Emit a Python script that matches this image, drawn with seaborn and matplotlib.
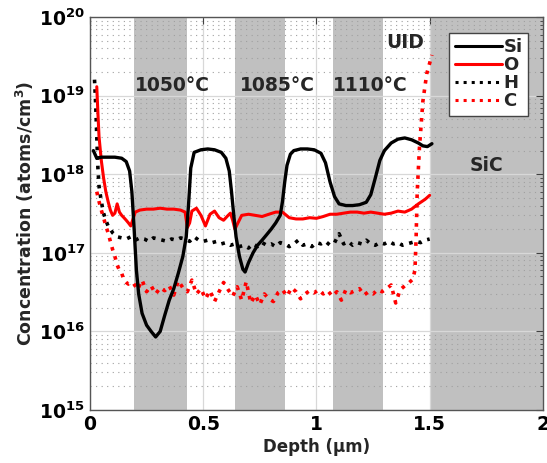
import matplotlib
matplotlib.use("Agg")
import matplotlib.pyplot as plt
import seaborn as sns
import numpy as np
from matplotlib.ticker import LogLocator, LogFormatterMathtext, NullFormatter

# SIMS depth profile values
si_x = [0.015, 0.03, 0.05, 0.08, 0.11, 0.14, 0.16, 0.175, 0.185, 0.195, 0.205, 0.215,
        0.23, 0.25, 0.27, 0.29, 0.31, 0.33, 0.35, 0.37, 0.39, 0.41, 0.425, 0.435, 0.445,
        0.46, 0.49, 0.52, 0.55, 0.58, 0.60, 0.615, 0.625, 0.635, 0.645, 0.66, 0.675, 0.685,
        0.70, 0.72, 0.74, 0.76, 0.78, 0.80, 0.82, 0.84, 0.85, 0.86, 0.87, 0.885, 0.90, 0.93,
        0.96, 0.99, 1.02, 1.04, 1.06, 1.08, 1.10, 1.13, 1.16, 1.19, 1.22, 1.24, 1.26, 1.28,
        1.30, 1.33, 1.36, 1.39, 1.42, 1.45, 1.47, 1.49, 1.51]
si_y = [2.0e18, 1.6e18, 1.65e18, 1.65e18, 1.65e18, 1.6e18, 1.45e18, 1.1e18, 6e17, 2e17, 6e16, 3e16,
        1.7e16, 1.2e16, 1.0e16, 8.5e15, 1.0e16, 1.6e16, 2.5e16, 3.5e16, 5.5e16, 9e16, 1.6e17, 4e17, 1.2e18,
        1.9e18, 2.05e18, 2.1e18, 2.05e18, 1.9e18, 1.6e18, 1.1e18, 6e17, 3e17, 1.6e17, 9e16, 6.2e16, 5.7e16,
        7.5e16, 1.0e17, 1.25e17, 1.45e17, 1.7e17, 2.0e17, 2.4e17, 3.0e17, 4.5e17, 8e17, 1.3e18, 1.8e18, 2.0e18, 2.1e18,
        2.1e18, 2.05e18, 1.85e18, 1.4e18, 8e17, 5.2e17, 4.2e17, 4.0e17, 4.0e17, 4.1e17, 4.4e17, 5.5e17, 9e17, 1.5e18,
        2.0e18, 2.5e18, 2.8e18, 2.9e18, 2.75e18, 2.5e18, 2.3e18, 2.25e18, 2.45e18]

o_x = [0.03, 0.035, 0.04, 0.05, 0.06, 0.07, 0.08, 0.09, 0.10, 0.11, 0.12, 0.13, 0.14, 0.15,
       0.16, 0.17, 0.18, 0.19, 0.20, 0.22, 0.25, 0.28, 0.31, 0.34, 0.37, 0.40, 0.42, 0.43,
       0.44, 0.45, 0.47, 0.49, 0.51, 0.53, 0.55, 0.57, 0.59, 0.61, 0.62, 0.63, 0.64, 0.65,
       0.67, 0.70, 0.73, 0.76, 0.79, 0.82, 0.85, 0.88, 0.91, 0.94, 0.97, 1.00, 1.03, 1.06,
       1.09, 1.12, 1.15, 1.18, 1.21, 1.24, 1.27, 1.30, 1.33, 1.36, 1.39, 1.42, 1.45, 1.48, 1.50]
o_y = [1.3e19, 6e18, 3e18, 1.5e18, 9e17, 6e17, 4.5e17, 3.5e17, 3.0e17, 3.2e17, 4.2e17, 3.3e17, 3.0e17, 2.8e17,
       2.6e17, 2.4e17, 2.2e17, 2.7e17, 3.3e17, 3.5e17, 3.6e17, 3.6e17, 3.7e17, 3.6e17, 3.6e17, 3.5e17, 3.3e17, 2.1e17,
       2.4e17, 3.4e17, 3.7e17, 3.0e17, 2.2e17, 3.1e17, 3.4e17, 2.8e17, 2.6e17, 3.0e17, 3.2e17, 2.6e17, 2.0e17, 2.3e17,
       3.0e17, 3.1e17, 3.0e17, 2.9e17, 3.1e17, 3.3e17, 3.3e17, 2.8e17, 2.7e17, 2.7e17, 2.8e17, 2.75e17, 2.9e17, 3.1e17,
       3.1e17, 3.2e17, 3.3e17, 3.3e17, 3.2e17, 3.3e17, 3.2e17, 3.1e17, 3.2e17, 3.4e17, 3.3e17, 3.6e17, 4.2e17, 4.8e17, 5.4e17]

h_x = [0.02, 0.025, 0.03, 0.035, 0.04, 0.05, 0.06, 0.07, 0.08, 0.09, 0.10, 0.12, 0.14, 0.16,
       0.18, 0.20, 0.22, 0.24, 0.26, 0.28, 0.30, 0.32, 0.34, 0.36, 0.38, 0.40, 0.42, 0.44,
       0.46, 0.48, 0.50, 0.52, 0.54, 0.56, 0.58, 0.60, 0.62, 0.64, 0.66, 0.68, 0.70, 0.72,
       0.74, 0.76, 0.78, 0.80, 0.82, 0.84, 0.86, 0.88, 0.90, 0.92, 0.94, 0.96, 0.98, 1.00,
       1.02, 1.04, 1.06, 1.08, 1.10, 1.12, 1.14, 1.16, 1.18, 1.20, 1.22, 1.24, 1.26, 1.28,
       1.30, 1.32, 1.34, 1.36, 1.38, 1.40, 1.42, 1.44, 1.46, 1.48, 1.50]
h_y = [1.6e19, 8e18, 3e18, 1.2e18, 7e17, 4.5e17, 3.2e17, 2.6e17, 2.2e17, 2.0e17, 1.8e17, 1.6e17, 1.55e17, 1.5e17,
       1.6e17, 1.45e17, 1.55e17, 1.5e17, 1.4e17, 1.55e17, 1.5e17, 1.45e17, 1.4e17, 1.5e17, 1.45e17, 1.55e17, 1.5e17, 1.4e17,
       1.6e17, 1.45e17, 1.4e17, 1.45e17, 1.35e17, 1.4e17, 1.3e17, 1.35e17, 1.25e17, 1.3e17, 1.2e17, 1.25e17, 1.15e17, 1.3e17,
       1.2e17, 1.35e17, 1.25e17, 1.3e17, 1.2e17, 1.35e17, 1.3e17, 1.2e17, 1.3e17, 1.45e17, 1.25e17, 1.3e17, 1.2e17, 1.35e17,
       1.3e17, 1.4e17, 1.25e17, 1.35e17, 1.75e17, 1.3e17, 1.4e17, 1.25e17, 1.35e17, 1.3e17, 1.45e17, 1.3e17, 1.25e17, 1.35e17,
       1.3e17, 1.4e17, 1.3e17, 1.35e17, 1.25e17, 1.3e17, 1.35e17, 1.4e17, 1.35e17, 1.45e17, 1.5e17]

c_x = [0.03, 0.04, 0.05, 0.06, 0.07, 0.08, 0.09, 0.10, 0.11, 0.12, 0.13, 0.14, 0.15, 0.16,
       0.17, 0.19, 0.21, 0.23, 0.25, 0.27, 0.29, 0.31, 0.33, 0.35, 0.37, 0.39, 0.41, 0.43,
       0.45, 0.47, 0.49, 0.51, 0.53, 0.55, 0.57, 0.59, 0.61, 0.63, 0.65, 0.67, 0.69, 0.71,
       0.73, 0.75, 0.77, 0.79, 0.81, 0.83, 0.85, 0.87, 0.89, 0.91, 0.93, 0.95, 0.97, 0.99,
       1.01, 1.03, 1.05, 1.07, 1.09, 1.11, 1.13, 1.15, 1.17, 1.19, 1.21, 1.23, 1.25, 1.27,
       1.29, 1.31, 1.33, 1.35, 1.37, 1.39, 1.41, 1.425, 1.435, 1.44, 1.445, 1.455, 1.47, 1.487, 1.51]
c_y = [6e17, 4.5e17, 3.5e17, 2.8e17, 2.2e17, 1.8e17, 1.4e17, 1.1e17, 9e16, 7e16, 6e16, 5.5e16, 4.5e16, 4.2e16,
       4.0e16, 4.2e16, 3.4e16, 4.5e16, 3.2e16, 3.8e16, 3.0e16, 3.6e16, 3.3e16, 3.8e16, 2.9e16, 4.4e16, 3.6e16, 3.2e16,
       4.5e16, 3.0e16, 3.5e16, 2.6e16, 3.3e16, 2.4e16, 3.2e16, 4.2e16, 3.4e16, 2.8e16, 3.7e16, 2.5e16, 4.3e16, 2.3e16,
       2.9e16, 2.2e16, 3.0e16, 2.6e16, 2.4e16, 3.1e16, 3.4e16, 2.8e16, 3.6e16, 3.2e16, 2.6e16, 3.0e16, 3.3e16, 3.1e16,
       3.4e16, 3.0e16, 3.3e16, 2.8e16, 3.2e16, 2.5e16, 3.4e16, 3.1e16, 3.3e16, 3.5e16, 2.9e16, 3.2e16, 3.0e16, 3.4e16,
       3.2e16, 3.5e16, 3.9e16, 2.3e16, 3.4e16, 3.8e16, 4.2e16, 4.6e16, 6e16, 1.5e17, 6e17, 2.2e18, 8.5e18, 1.9e19, 3.3e19]

# annealing layers (gray bands) and substrate
bands = [(0.195, 0.43), (0.64, 0.86), (1.075, 1.295), (1.5, 2.0)]
labels = [("1050°C", 0.365, 1.35e19), ("1085°C", 0.826, 1.35e19), ("1110°C", 1.24, 1.35e19),
          ("UID", 1.39, 4.7e19), ("SiC", 1.75, 1.3e18)]

sns.set_style("white")
plt.rcParams['font.family'] = ['DejaVu Sans']
plt.rcParams['font.weight'] = 'bold'
plt.rcParams['mathtext.default'] = 'bf'

fig = plt.figure(figsize=(5.47, 4.63), dpi=100)
ax = fig.add_axes([0.1645, 0.1145, 0.828, 0.8485])

for a, b in bands:
    ax.axvspan(a, b, color='#c0c0c0', lw=0, zorder=1)

sns.lineplot(x=si_x, y=si_y, ax=ax, color='black', lw=2.4, label='Si', zorder=5)
sns.lineplot(x=o_x, y=o_y, ax=ax, color='red', lw=2.2, label='O', zorder=4)
sns.lineplot(x=h_x, y=h_y, ax=ax, color='black', lw=2.6, ls=':', label='H', zorder=3)
sns.lineplot(x=c_x, y=c_y, ax=ax, color='red', lw=2.6, ls=':', label='C', zorder=3)

ax.set_yscale('log')
ax.set_xlim(0, 2)
ax.set_ylim(1e15, 1e20)
ax.set_xticks([0, 0.5, 1, 1.5, 2])
ax.set_xticklabels(['0', '0.5', '1', '1.5', '2'])
ax.yaxis.set_major_locator(LogLocator(base=10, numticks=10))
ax.yaxis.set_major_formatter(LogFormatterMathtext())
ax.yaxis.set_minor_locator(LogLocator(base=10, subs=np.arange(2, 10), numticks=20))
ax.yaxis.set_minor_formatter(NullFormatter())

ax.set_axisbelow('line')
ax.grid(True, which='major', color='#d8d8d8', lw=0.9, ls='-')
ax.grid(True, which='minor', axis='y', color='#a0a0a0', lw=0.8, ls=(0, (1, 4)))

ax.tick_params(which='both', direction='in', top=True, right=True, colors='#404040',
               labelcolor='black', labelsize=13.5)
ax.tick_params(which='major', length=5)
ax.tick_params(which='minor', length=2.5)
for s in ax.spines.values():
    s.set_color('#555555')
    s.set_linewidth(1.0)

for t, x, y in labels:
    ax.text(x, y, t, ha='center', va='center', fontsize=13.5, fontweight='bold')

ax.set_xlabel('Depth (μm)', fontsize=12, fontweight='bold', labelpad=3)
ax.set_ylabel('Concentration (atoms/cm$^3$)', fontsize=12.5, fontweight='bold', labelpad=2)

leg = ax.legend(loc='upper right', bbox_to_anchor=(0.967, 0.96), borderaxespad=0,
                fontsize=13, handlelength=2.6, handletextpad=0.1, labelspacing=0.0,
                borderpad=0.3, fancybox=False, framealpha=1, edgecolor='#444444')
leg.get_frame().set_linewidth(1.0)
for txt in leg.get_texts():
    txt.set_fontweight('bold')
for ln in leg.get_lines():
    ln.set_linewidth(2.2)

fig.savefig('out.png', dpi=100)
